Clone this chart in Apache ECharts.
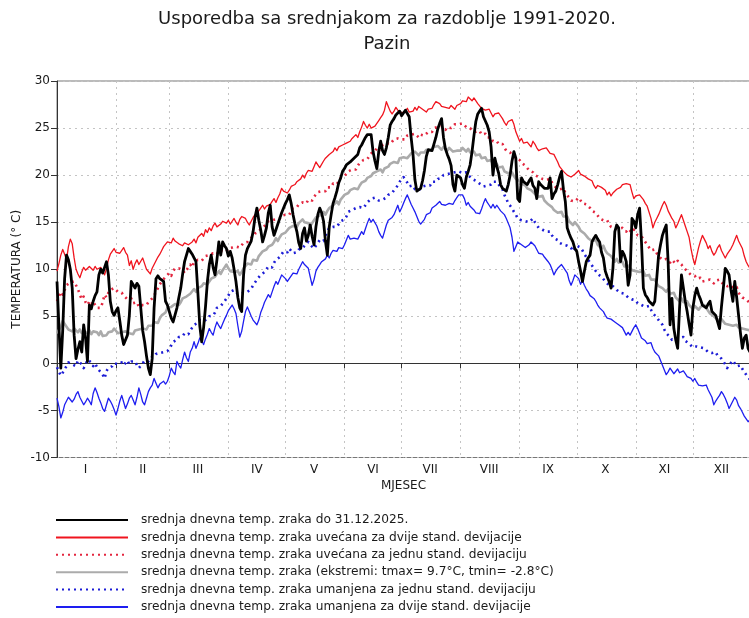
<!DOCTYPE html>
<html>
<head>
<meta charset="utf-8">
<script src="https://cdn.jsdelivr.net/npm/echarts@6/dist/echarts.min.js"></script>
<style>
  html, body { margin: 0; padding: 0; background: #ffffff; }
  #chart { width: 749px; height: 618px; }
</style>
</head>
<body>
<div id="chart"></div>
<script>
// Month structure and axis labels
const monthDays = [31, 28, 31, 30, 31, 30, 31, 31, 30, 31, 30, 31];
const monthLabels = ['I', 'II', 'III', 'IV', 'V', 'VI', 'VII', 'VIII', 'IX', 'X', 'XI', 'XII'];
const yTicks = { min: -10, max: 30, step: 5 };

const seriesNames = [
  'srednja dnevna temp. zraka do 31.12.2025.',
  'srednja dnevna temp. zraka uvećana za dvije stand. devijacije',
  'srednja dnevna temp. zraka uvećana za jednu stand. devijaciju',
  'srednja dnevna temp. zraka (ekstremi: tmax= 9.7°C, tmin= -2.8°C)',
  'srednja dnevna temp. zraka umanjena za jednu stand. devijaciju',
  'srednja dnevna temp. zraka umanjena za dvije stand. devijacije'
];

// Daily mean air temperature in 2025 (°C), one row per month
const temp2025 = [
  8.7,4.0,-0.5,3.5,9.0,11.5,11.0,10.0,8.0,3.0,0.5,1.5,2.3,1.2,4.1,2.7,0.2,6.2,5.8,6.6,7.2,7.6,9.4,10.0,9.6,10.2,10.8,9.4,6.6,5.5,5.1,
  5.6,5.9,4.5,3.0,2.0,1.9,3.0,5.1,8.7,8.5,8.0,8.5,8.2,5.9,3.5,2.3,0.8,-0.5,-1.2,0.5,5.9,9.0,9.3,9.0,9.2,8.7,6.6,6.2,
  5.5,4.8,4.4,4.6,5.9,7.0,8.0,9.5,10.8,11.5,12.2,11.9,11.6,11.2,10.8,7.5,4.0,2.3,3.8,6.0,8.7,10.5,11.5,10.2,9.4,11.0,12.9,11.5,12.9,12.5,12.2,
  11.4,11.9,11.2,10.0,8.7,7.0,5.9,5.5,9.4,11.5,12.2,12.6,13.0,14.0,15.5,16.5,15.2,14.2,12.9,13.6,14.4,16.0,16.8,14.5,13.6,14.2,14.8,15.4,16.0,16.5,
  17.0,17.4,17.9,17.0,15.8,14.8,14.0,12.8,12.2,13.8,14.4,13.0,13.6,14.7,13.5,12.6,14.5,15.8,16.5,16.0,15.1,13.0,11.5,14.5,15.8,17.0,17.6,18.3,19.2,19.7,20.4,
  20.7,21.1,21.0,21.4,21.6,21.8,22.0,22.2,22.9,23.2,23.6,24.0,24.3,24.4,24.3,22.5,21.5,20.7,22.5,23.6,22.6,22.2,22.9,24.0,25.3,25.7,26.0,26.4,26.2,26.8,
  26.3,26.6,26.9,27.1,26.2,24.0,22.2,19.5,18.3,18.5,18.6,19.4,20.5,22.0,22.7,22.9,22.6,22.5,24.0,24.9,25.5,26.0,24.0,22.8,22.2,21.7,21.0,19.0,18.3,20.0,19.8,
  19.7,19.0,18.6,19.8,20.4,21.1,22.5,24.2,25.7,26.5,26.8,27.1,26.2,26.4,25.3,24.6,23.0,20.0,21.8,20.9,20.2,19.0,18.6,18.4,18.3,19.0,20.0,21.5,22.5,21.8,17.5,
  17.2,19.7,19.3,19.5,19.0,19.4,19.7,18.9,18.6,17.5,19.3,19.0,18.8,18.6,18.5,18.6,19.7,17.5,18.0,18.3,19.0,19.8,20.4,18.5,17.2,14.4,13.8,13.3,12.9,12.2,
  11.9,10.8,9.8,8.7,9.8,10.8,11.2,11.5,12.9,13.3,13.6,13.2,12.9,11.8,11.2,9.8,9.2,8.7,8.0,10.1,14.0,14.7,14.4,10.8,11.9,11.5,10.8,8.3,9.4,15.4,15.1,
  14.4,15.8,16.5,12.9,8.0,7.3,7.0,6.6,6.4,6.2,6.6,9.0,11.5,12.6,13.6,14.2,14.7,10.8,4.1,6.9,3.7,2.5,1.6,5.9,9.4,8.0,6.6,5.5,4.2,3.0,
  5.9,7.2,8.0,7.3,6.8,6.2,6.0,5.9,6.3,6.6,5.5,5.3,5.1,4.4,3.7,6.0,8.0,10.1,9.8,9.4,7.8,6.6,8.7,7.0,5.1,3.2,1.6,2.7,3.0,1.6,1.2
];

// 1991-2020 daily mean plus two standard deviations (°C)
const meanPlus2sd = [
  9.8,10.6,11.5,12.1,11.6,11.0,12.4,13.2,12.7,11.2,10.0,9.5,9.1,9.7,10.2,9.9,9.8,10.3,10.5,9.9,10.3,10.0,9.8,10.2,10.4,9.4,10.1,11.0,11.6,11.9,12.2,
  11.8,12.0,11.7,11.9,12.3,11.8,11.5,10.4,10.9,10.0,10.6,11.0,10.5,10.3,11.2,10.6,10.0,9.8,9.5,10.1,10.5,10.9,11.3,11.6,12.0,12.4,12.2,12.9,
  13.1,12.8,13.3,13.0,13.2,12.7,12.9,12.5,12.8,13.0,12.6,12.4,12.9,13.2,12.8,13.4,13.6,13.8,13.5,14.2,13.9,14.4,14.1,14.6,14.9,14.5,14.3,14.8,15.1,15.3,14.9,
  15.2,14.8,15.1,15.4,15.0,14.7,15.3,15.6,15.8,15.4,15.0,14.7,15.1,15.5,15.8,15.6,16.2,16.5,16.8,16.4,16.7,16.5,16.9,17.2,17.5,17.1,17.6,18.0,18.6,18.3,
  18.5,18.1,18.4,18.8,18.6,19.0,19.3,19.1,19.6,20.0,19.7,20.2,20.5,20.7,20.4,20.9,21.4,21.1,20.8,21.0,21.5,21.8,21.6,22.2,22.0,22.5,22.9,22.6,23.0,22.8,23.2,
  23.0,23.4,23.2,23.6,23.9,23.7,24.3,24.0,24.6,25.1,25.7,25.3,25.0,25.4,25.0,24.8,25.2,25.3,25.8,26.1,26.4,26.9,27.8,27.3,26.8,26.5,26.8,27.2,26.9,27.1,
  26.6,26.4,26.8,27.1,26.7,26.9,26.8,27.2,26.9,27.3,27.5,27.0,26.8,26.7,27.0,27.2,27.1,27.5,27.8,28.0,27.6,27.3,27.5,27.2,27.0,27.1,27.4,27.2,27.0,27.4,27.6,
  27.6,27.9,28.1,27.8,28.3,28.1,27.9,28.2,28.0,27.6,27.4,27.1,27.3,26.9,26.8,27.0,26.6,26.2,26.5,26.3,26.6,26.4,26.0,25.6,25.3,25.7,25.5,25.9,25.4,24.6,24.1,
  23.6,23.9,23.4,23.2,23.5,23.3,23.0,23.6,23.3,22.9,22.6,22.5,22.8,22.6,22.9,22.7,22.3,22.5,22.2,21.8,21.4,20.9,20.7,20.4,20.6,20.0,20.2,19.8,19.7,20.1,
  20.2,20.5,20.1,20.3,19.9,20.0,19.6,19.8,19.4,18.9,18.6,18.9,19.1,18.7,18.9,18.4,17.9,18.2,17.8,18.1,18.2,18.5,18.3,18.7,19.0,18.8,19.1,19.3,19.0,18.2,17.5,
  17.8,17.6,17.9,17.7,17.4,17.0,16.7,16.5,15.4,14.4,15.0,15.4,15.8,16.3,16.8,17.2,16.8,16.2,15.8,15.4,15.1,14.4,14.8,15.3,15.8,15.2,14.6,14.0,13.4,12.2,
  11.2,10.5,11.4,12.3,13.0,13.6,13.2,12.8,12.2,12.5,11.9,11.5,11.8,12.3,12.6,12.0,11.6,11.2,11.6,11.9,12.2,12.6,13.1,13.6,13.0,12.6,12.2,11.4,10.8,10.4,10.1
];

// 1991-2020 daily mean plus one standard deviation (°C)
const meanPlus1sd = [
  6.6,7.1,7.6,7.3,7.8,8.3,8.1,8.6,8.4,8.7,8.5,7.9,7.3,6.8,7.1,6.5,6.2,6.6,6.3,6.6,6.2,5.9,6.1,5.9,6.5,7.3,7.0,7.5,7.8,7.6,8.0,
  7.9,7.6,7.8,7.5,7.2,7.0,6.8,6.6,6.9,6.4,6.2,6.5,6.0,5.9,6.2,6.0,6.2,6.5,6.3,6.9,7.2,7.6,8.0,8.4,8.7,8.9,9.2,9.4,
  9.6,9.3,9.8,10.1,9.9,10.1,10.3,9.9,9.6,9.8,10.2,10.5,10.2,10.8,10.6,11.0,11.2,10.9,11.1,11.4,11.2,11.5,11.3,11.7,11.9,11.6,12.0,12.2,11.9,12.1,11.9,
  12.2,12.0,12.3,12.1,12.4,12.6,12.3,12.5,12.8,12.6,12.9,13.2,13.0,13.5,13.8,13.6,14.0,14.3,14.1,14.6,14.8,15.1,14.9,15.2,15.0,15.3,15.1,15.4,15.7,15.5,
  15.8,16.0,15.8,16.2,16.5,16.3,16.6,16.9,16.7,17.1,17.3,17.0,17.4,17.6,17.3,17.7,17.9,18.2,18.0,18.3,18.5,18.3,18.7,18.9,18.7,19.1,19.3,19.0,19.4,19.7,19.5,
  19.9,20.1,20.4,20.2,20.6,20.8,20.6,21.0,21.3,21.1,21.6,21.8,21.7,22.0,22.3,22.1,22.5,22.9,22.6,22.9,23.2,23.0,23.4,23.6,23.3,23.5,23.8,23.6,23.9,24.1,
  23.8,24.0,23.8,24.2,24.0,24.3,24.1,24.4,24.2,24.0,24.3,24.5,24.2,24.4,24.6,24.8,24.6,25.0,24.8,25.1,24.9,25.2,25.0,24.8,25.1,25.3,25.0,25.2,25.4,25.2,25.4,
  25.2,25.5,25.3,25.1,25.3,25.0,24.7,24.9,24.6,24.4,24.7,24.3,24.1,24.4,24.0,23.8,24.0,23.6,23.4,23.6,23.3,23.1,23.3,22.9,22.6,22.8,22.4,22.1,22.3,21.8,22.0,
  21.6,21.3,21.5,21.0,20.8,20.5,20.7,20.3,20.0,20.2,19.8,19.9,19.6,19.8,19.5,19.3,19.6,19.2,19.0,18.7,18.9,18.5,18.3,18.6,18.1,17.9,17.6,17.3,17.5,17.2,
  17.4,17.6,17.3,17.0,17.2,16.9,16.8,16.5,16.2,16.4,16.0,15.7,15.4,15.6,15.2,15.0,15.2,14.8,14.5,14.7,14.4,14.6,14.3,14.1,14.4,14.2,14.0,14.3,14.1,13.9,14.2,
  13.9,13.6,13.8,13.5,13.2,12.9,12.6,12.3,12.0,11.8,12.1,11.7,11.4,11.2,11.0,10.8,11.1,10.9,10.7,11.0,10.8,10.6,10.9,10.7,10.5,10.2,10.0,9.8,9.6,9.4,
  9.5,9.3,9.0,8.8,9.1,8.7,8.5,8.8,8.6,8.9,8.7,8.5,8.8,8.6,8.9,8.7,8.4,8.6,8.2,8.0,8.3,8.0,7.8,8.1,7.5,7.3,7.0,7.2,6.8,6.6,6.4
];

// 1991-2020 daily mean air temperature (°C)
const meanDaily = [
  3.2,3.0,3.9,4.5,4.3,3.9,3.6,3.8,3.4,3.7,3.5,3.3,3.6,3.2,3.5,3.4,3.2,3.5,3.1,3.4,3.6,3.3,3.0,3.4,2.9,2.7,3.0,3.3,3.5,3.4,3.7,
  3.5,3.2,3.0,3.3,3.1,3.4,3.6,3.2,3.4,3.1,3.5,3.3,3.6,3.4,3.7,3.9,3.6,4.0,4.2,4.0,4.4,4.6,4.3,4.8,5.1,4.9,5.4,5.9,
  5.7,6.0,5.8,6.3,6.1,6.2,6.5,6.9,6.7,7.1,7.0,7.4,7.2,7.9,7.6,8.0,7.8,8.2,8.5,8.7,8.4,8.7,9.0,8.8,9.2,9.4,9.8,9.5,9.9,10.2,10.5,
  10.1,9.8,10.0,9.7,9.5,9.8,9.4,9.7,10.1,10.3,10.6,10.8,10.5,11.0,11.2,10.9,11.4,11.6,11.9,11.7,12.1,12.4,12.2,12.6,12.9,13.3,13.0,13.4,13.7,13.5,
  13.9,14.1,14.4,14.2,14.6,14.8,14.5,14.9,15.1,15.3,15.0,15.2,14.9,14.6,14.8,15.2,15.5,15.3,15.7,15.9,16.1,15.8,16.2,16.5,16.3,16.8,17.0,17.2,16.9,17.4,17.6,
  17.9,17.7,18.1,18.4,18.2,18.6,18.8,18.5,18.9,19.2,19.0,19.4,19.7,19.5,19.9,20.2,20.0,20.4,20.2,20.6,20.3,20.7,20.5,20.9,21.2,21.0,21.4,21.6,21.3,21.8,
  21.6,21.9,22.1,21.8,22.0,22.3,22.2,22.5,22.3,22.1,22.4,22.6,22.4,22.7,22.9,22.6,22.8,23.0,22.8,23.1,22.9,22.7,23.0,22.8,22.6,22.9,22.7,22.5,22.3,22.6,22.8,
  22.6,22.9,22.7,22.5,22.8,22.4,22.2,22.5,22.1,21.9,22.2,21.8,21.6,21.9,21.5,21.3,21.6,21.1,20.9,21.2,20.8,20.6,20.9,20.4,20.6,20.2,20.0,20.3,19.9,19.6,19.8,
  19.4,19.1,19.3,18.9,18.6,18.8,18.4,18.3,18.0,18.2,17.7,17.5,17.8,17.3,17.2,16.9,17.1,16.6,16.3,16.5,16.0,15.8,16.1,15.6,15.4,15.6,15.1,14.9,14.7,15.0,
  14.8,14.5,14.1,14.3,13.8,13.6,13.3,13.5,13.0,12.8,13.1,12.6,12.4,12.2,12.5,12.0,11.7,11.9,11.4,11.2,10.8,11.1,10.7,10.5,10.8,10.3,10.1,10.4,10.2,9.9,10.1,
  9.8,10.0,9.7,9.5,9.8,9.3,9.1,9.4,8.9,8.7,8.9,8.5,8.2,8.4,8.0,7.8,7.6,7.9,7.4,7.2,7.5,7.0,6.8,6.6,6.9,6.5,6.3,6.6,6.2,6.0,
  5.8,6.1,5.9,5.7,6.0,5.8,6.2,5.9,5.6,5.3,5.5,5.0,4.8,4.6,4.4,4.7,4.5,4.2,4.4,4.1,4.3,4.0,4.2,4.1,3.8,4.0,3.7,3.9,3.6,3.8,3.5
];

// 1991-2020 daily mean minus one standard deviation (°C)
const meanMinus1sd = [
  -0.4,-0.9,-1.3,-1.0,-0.6,-0.3,0.1,0.2,-0.1,0.0,-0.3,0.3,0.4,-0.1,-0.5,-0.2,0.4,0.5,0.1,-0.3,0.0,-0.4,-0.7,-0.9,-1.2,-1.6,-0.8,-0.5,-0.7,-0.3,0.0,
  0.2,-0.1,-0.3,0.1,-0.2,0.0,0.3,-0.1,0.2,0.4,0.2,-0.2,-0.5,-0.3,0.0,0.3,0.1,0.2,0.6,0.4,0.7,1.0,0.8,1.1,0.9,1.2,1.0,1.3,
  1.6,1.9,2.3,2.1,2.5,2.8,2.6,2.9,3.2,3.4,3.1,3.5,3.8,4.1,3.9,4.3,4.6,4.8,4.5,4.4,4.7,5.0,4.8,5.1,5.4,5.9,5.7,6.1,6.3,6.6,6.9,
  7.2,7.6,7.4,7.8,7.5,7.7,7.4,7.2,7.5,7.3,7.6,7.4,7.9,8.3,8.6,8.9,9.1,9.4,9.2,9.7,9.9,10.3,10.5,10.2,10.7,11.0,10.8,11.3,11.6,11.9,
  12.1,11.8,12.2,12.0,11.7,11.5,11.8,12.1,11.9,12.2,12.5,12.3,12.9,12.6,12.4,12.2,12.5,12.8,13.1,13.3,13.0,13.6,14.0,14.4,14.2,14.5,14.7,14.5,14.8,15.1,14.9,
  15.3,15.6,16.1,15.9,16.3,16.1,16.5,16.3,16.6,16.4,16.5,16.8,17.1,16.9,17.5,17.3,17.6,17.5,17.3,17.1,17.4,17.2,17.6,17.9,17.7,18.1,18.4,18.6,18.9,19.3,
  19.5,19.8,19.6,19.2,18.8,18.6,18.9,18.5,18.7,18.4,18.6,18.8,18.6,18.9,19.1,18.9,19.3,19.5,19.3,19.6,19.8,19.7,20.0,19.8,20.1,19.9,20.2,20.0,20.3,20.1,20.4,
  20.4,20.2,20.0,20.3,20.0,19.8,19.6,19.7,19.4,19.5,19.1,19.0,18.8,18.6,18.9,18.7,19.0,19.3,19.1,19.3,19.0,18.8,18.5,17.9,17.5,17.0,16.8,16.5,16.1,15.8,15.4,
  15.5,15.2,15.4,15.1,15.3,15.0,15.2,15.4,15.0,14.7,14.4,14.6,14.2,14.4,14.0,13.8,14.0,13.6,13.3,13.5,13.1,12.8,13.0,12.6,12.8,12.5,12.7,12.3,11.9,12.1,
  12.5,12.7,12.3,12.0,11.6,11.3,11.0,10.8,10.4,10.1,9.8,9.5,9.6,9.2,9.0,8.7,8.5,8.3,8.5,8.2,8.0,7.8,7.9,7.5,7.3,7.4,7.2,7.0,7.1,6.8,6.6,
  6.7,6.4,6.5,6.2,6.3,6.0,5.9,6.1,5.7,5.3,5.1,4.9,4.6,4.4,4.1,3.6,3.2,3.0,2.8,2.5,2.3,2.6,2.4,2.7,2.5,2.8,2.4,2.3,2.1,1.9,
  1.7,1.6,1.8,2.0,1.7,1.9,1.6,1.4,1.2,1.4,1.1,0.9,1.2,0.8,0.6,0.5,0.2,-0.1,-0.5,-0.2,0.0,0.3,0.1,-0.3,-0.5,-0.2,-0.6,-0.9,-1.2,-1.5,-1.7
];

// 1991-2020 daily mean minus two standard deviations (°C)
const meanMinus2sd = [
  -3.7,-4.6,-5.8,-5.2,-4.4,-4.0,-3.6,-3.4,-4.1,-3.8,-3.3,-3.0,-3.6,-4.0,-4.4,-4.1,-3.7,-4.0,-4.4,-3.2,-2.6,-3.1,-3.7,-4.2,-4.8,-5.1,-4.4,-3.7,-4.0,-4.4,-4.9,
  -5.5,-4.8,-4.0,-3.4,-4.1,-4.8,-4.3,-3.7,-3.4,-3.9,-4.4,-3.6,-2.6,-3.3,-4.1,-4.4,-3.7,-3.0,-2.6,-2.3,-1.6,-2.1,-2.6,-2.2,-2.0,-1.9,-2.2,-1.9,
  -1.3,-0.5,-0.9,-1.2,0.2,-0.2,-0.5,0.4,1.2,0.6,0.2,1.2,1.6,2.3,1.6,2.1,2.7,2.4,2.0,2.6,3.1,3.7,3.3,3.0,3.8,4.4,4.0,3.7,4.2,4.7,5.1,
  5.6,5.9,6.2,5.8,5.3,4.0,2.8,3.4,4.5,5.5,6.0,5.5,5.0,4.6,4.4,4.1,4.6,5.4,5.9,6.5,6.9,7.3,7.0,7.6,8.2,8.7,8.4,8.9,9.4,9.2,
  9.0,8.7,8.9,9.3,9.6,9.8,9.5,10.0,10.4,10.8,10.5,10.3,10.1,9.2,8.3,8.9,9.8,10.2,10.5,10.8,10.6,11.1,11.5,11.2,11.7,12.0,12.2,11.9,12.3,12.1,12.2,
  12.6,13.1,13.6,13.2,13.0,13.3,13.5,13.2,13.6,14.0,13.7,14.3,14.9,15.4,15.0,15.3,15.1,14.6,14.0,13.6,13.3,14.0,14.7,15.2,15.0,15.5,15.8,16.3,16.8,16.1,
  16.5,17.0,17.5,17.9,17.4,16.9,16.5,16.1,15.6,15.1,14.8,14.7,15.3,15.8,15.6,16.0,16.5,16.3,16.8,17.0,17.2,16.9,17.1,16.8,16.6,17.0,17.2,16.9,17.3,17.6,17.9,
  17.7,17.9,17.5,16.8,17.1,16.7,16.5,16.3,16.0,15.8,15.9,16.4,17.0,17.5,17.1,16.8,16.5,16.9,16.5,16.8,16.6,16.2,16.1,15.8,15.4,14.9,14.4,13.4,11.9,12.4,12.9,
  12.9,12.6,12.8,12.3,12.2,12.6,12.9,12.7,12.5,12.1,11.7,11.5,11.6,11.3,11.2,10.8,10.5,10.0,9.4,9.8,10.1,10.3,10.5,10.2,10.4,9.6,8.8,8.3,8.8,9.4,
  9.4,9.0,8.4,8.8,8.3,7.9,7.6,7.2,7.4,6.9,6.6,6.2,5.9,6.1,5.5,5.1,4.8,5.0,4.7,4.8,4.4,4.6,4.1,4.3,3.8,3.4,3.0,3.3,3.0,3.4,3.8,
  4.1,3.7,3.2,2.7,2.9,2.4,2.1,1.9,2.2,1.6,1.2,1.4,0.8,0.3,-0.2,-0.7,-1.2,-0.9,-0.5,-0.8,-1.1,-0.9,-0.6,-1.0,-1.2,-0.8,-1.1,-1.4,-1.2,-1.6,
  -1.9,-1.6,-2.0,-2.3,-2.1,-2.4,-2.6,-2.3,-2.8,-3.2,-3.6,-4.4,-4.0,-3.7,-3.4,-3.0,-3.3,-3.7,-4.2,-4.8,-4.4,-4.0,-3.6,-3.9,-4.5,-4.8,-5.2,-5.6,-5.9,-6.2,-6.0
];

// Day categories for the x axis, with month starts (ticks, grid) and mid-month label slots
const dayCategories = [];
const monthStartIdx = new Set();
const monthLabelAt = {};
monthDays.forEach(function (n, m) {
  const first = dayCategories.length;
  monthStartIdx.add(first);
  monthLabelAt[first + Math.floor(n / 2)] = monthLabels[m];
  for (let d = 1; d <= n; d++) dayCategories.push(d + '.' + (m + 1) + '.');
});

const FONT = 'DejaVu Sans';
const gridLine = { show: true, lineStyle: { color: '#c4c4c4', width: 1, type: [2, 4] } };

function lineSeries(name, data, color, width, type, z) {
  return {
    name: name,
    type: 'line',
    data: data,
    symbol: 'none',
    showSymbol: false,
    smooth: false,
    z: z,
    lineStyle: { color: color, width: width, type: type, cap: 'butt', join: 'round' },
    itemStyle: { color: color },
    emphasis: { disabled: true }
  };
}

const chart = echarts.init(document.getElementById('chart'), null, { renderer: 'canvas' });

chart.setOption({
  animation: false,
  backgroundColor: '#ffffff',
  textStyle: { fontFamily: FONT },
  title: {
    text: 'Usporedba sa srednjakom za razdoblje 1991-2020.',
    subtext: 'Pazin',
    left: 382,
    top: 5,
    textAlign: 'center',
    itemGap: 7,
    textStyle: { fontFamily: FONT, fontSize: 18, fontWeight: 'normal', color: '#1a1a1a' },
    subtextStyle: { fontFamily: FONT, fontSize: 18, color: '#1a1a1a' }
  },
  legend: {
    orient: 'vertical',
    left: 55,
    top: 513,
    padding: 0,
    itemWidth: 72,
    itemHeight: 14,
    itemGap: 3.4,
    selectedMode: false,
    data: seriesNames,
    // line sample only, no marker in the middle
    itemStyle: { opacity: 0 },
    textStyle: { fontFamily: FONT, fontSize: 12.2, color: '#1a1a1a', lineHeight: 14, padding: [0, 0, 0, 8] }
  },
  grid: {
    left: 57,
    top: 81,
    width: 693,
    height: 376.5,
    show: true,
    borderColor: '#777777',
    borderWidth: 1,
    containLabel: false,
    outerBoundsMode: 'none'
  },
  xAxis: {
    type: 'category',
    data: dayCategories,
    boundaryGap: false,
    name: 'MJESEC',
    nameLocation: 'middle',
    nameGap: 22,
    nameMoveOverlap: false,
    nameTextStyle: { fontFamily: FONT, fontSize: 12, color: '#1a1a1a' },
    axisLine: { lineStyle: { color: '#333333', width: 1 } },
    axisTick: {
      show: true, inside: false, length: 5,
      interval: function (idx) { return monthStartIdx.has(idx); },
      lineStyle: { color: '#333333' }
    },
    axisLabel: {
      show: true, margin: 6,
      fontFamily: FONT, fontSize: 12, color: '#1a1a1a',
      interval: function (idx) { return monthLabelAt[idx] !== undefined; },
      formatter: function (val, idx) { return monthLabelAt[idx] || ''; }
    },
    splitLine: Object.assign({}, gridLine, {
      interval: function (idx) { return idx > 0 && monthStartIdx.has(idx); }
    })
  },
  yAxis: {
    type: 'value',
    min: yTicks.min,
    max: yTicks.max,
    interval: yTicks.step,
    name: 'TEMPERATURA (° C)',
    nameLocation: 'middle',
    nameGap: 34,
    nameMoveOverlap: false,
    nameRotate: 90,
    nameTextStyle: { fontFamily: FONT, fontSize: 12, color: '#1a1a1a' },
    axisLine: { show: true, lineStyle: { color: '#333333', width: 1 } },
    axisTick: { show: true, inside: false, length: 6, lineStyle: { color: '#333333' } },
    axisLabel: { margin: 7, fontFamily: FONT, fontSize: 12, color: '#1a1a1a' },
    splitLine: gridLine
  },
  series: [
    lineSeries(seriesNames[0], temp2025, '#000000', 2.8, 'solid', 10),
    lineSeries(seriesNames[1], meanPlus2sd, '#f0141e', 1.3, 'solid', 5),
    lineSeries(seriesNames[2], meanPlus1sd, '#e3263f', 2.6, [2, 4], 5),
    lineSeries(seriesNames[3], meanDaily, '#ababab', 2.6, 'solid', 4),
    lineSeries(seriesNames[4], meanMinus1sd, '#1c1cd6', 2.6, [2, 4], 5),
    lineSeries(seriesNames[5], meanMinus2sd, '#1e1ef0', 1.3, 'solid', 5)
  ]
});
</script>
</body>
</html>
